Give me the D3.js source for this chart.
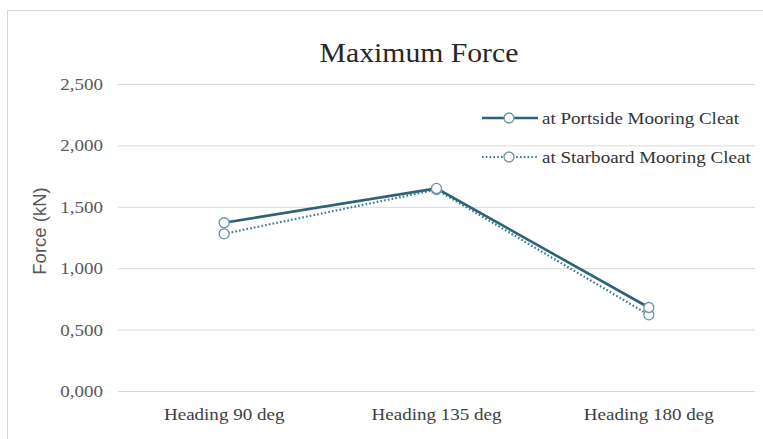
<!DOCTYPE html>
<html>
<head>
<meta charset="utf-8">
<script src="https://cdn.jsdelivr.net/npm/d3@7"></script>
<style>
html,body{margin:0;padding:0;background:#fff;}
svg{display:block;}
</style>
</head>
<body>
<svg id="chart" width="763" height="439"></svg>
<script>
const categories = ["Heading 90 deg", "Heading 135 deg", "Heading 180 deg"];
const portside = [1.37, 1.65, 0.68];
const starboard = [1.28, 1.64, 0.62];
const seriesNames = ["at Portside Mooring Cleat", "at Starboard Mooring Cleat"];
const yTicks = [0, 0.5, 1.0, 1.5, 2.0, 2.5];
const yTickLabels = ["0,000", "0,500", "1,000", "1,500", "2,000", "2,500"];
const title = "Maximum Force";
const yTitle = "Force (kN)";

const svg = d3.select("#chart");
const W = 763, H = 439;
const m = {left: 118, right: 8, top: 84, bottom: 48};
const serif = "'Liberation Serif','Times New Roman',serif";
const SX = 1.12; // horizontal stretch of serif text

// chart border
svg.append("rect").attr("x", 7.5).attr("y", 10.5).attr("width", 800).attr("height", 500)
  .attr("fill", "none").attr("stroke", "#d9d9d9").attr("stroke-width", 1);

const x = d3.scaleBand().domain(categories).range([m.left, W - m.right]);
const y = d3.scaleLinear().domain([0, 2.5]).range([H - m.bottom, m.top]);

// gridlines + y tick labels
const yAxis = d3.axisLeft(y).tickValues(yTicks)
  .tickFormat((d, i) => yTickLabels[i])
  .tickSize(-(W - m.right - m.left)).tickPadding(14);
const ga = svg.append("g").attr("transform", `translate(${m.left},0)`).call(yAxis);
ga.select(".domain").remove();
ga.selectAll(".tick line").attr("stroke", "#d9d9d9").attr("stroke-width", 1);
ga.selectAll(".tick text").attr("fill", "#595959").style("font-family", serif).style("font-size", "17px")
  .attr("x", -15 / SX).attr("transform", `scale(${SX},1)`);

// x axis labels
const xAxis = d3.axisBottom(x).tickSize(0).tickPadding(17);
const gx = svg.append("g").attr("transform", `translate(0,${H - m.bottom})`).call(xAxis);
gx.select(".domain").remove();
gx.selectAll(".tick text").attr("fill", "#404040").style("font-family", serif).style("font-size", "17px")
  .attr("transform", `scale(${SX},1)`);

// title
svg.append("text").attr("transform", `translate(419,62) scale(1.1,1)`).attr("text-anchor", "middle")
  .attr("fill", "#262626").style("font-family", serif).style("font-size", "27px")
  .text(title);

// y title
svg.append("text").attr("transform", "translate(46,231) rotate(-90)")
  .attr("text-anchor", "middle").attr("fill", "#595959")
  .style("font-family", "'Liberation Sans',Arial,sans-serif").style("font-size", "18.5px")
  .text(yTitle);

const cx = d => x(d) + x.bandwidth() / 2;
const series = [
  {name: seriesNames[0], values: portside, color: "#2d6277", width: 2.6, dash: null},
  {name: seriesNames[1], values: starboard, color: "#3b7891", width: 2.2, dash: "1.6,2.2"}
];

const line = d3.line().x((d, i) => cx(categories[i])).y(d => y(d));

[series[1], series[0]].forEach(s => {
  svg.append("path").datum(s.values).attr("d", line)
    .attr("fill", "none").attr("stroke", s.color).attr("stroke-width", s.width)
    .attr("stroke-dasharray", s.dash);
});
[series[1], series[0]].forEach(s => {
  svg.selectAll(null).data(s.values).enter().append("circle")
    .attr("cx", (d, i) => cx(categories[i])).attr("cy", d => y(d)).attr("r", 5)
    .attr("fill", "#fff").attr("stroke", "#6a95a8").attr("stroke-width", 1.3);
});

// legend
const lg = svg.append("g");
const legY = [118, 157];
series.forEach((s, i) => {
  const g = lg.append("g").attr("transform", `translate(0,${legY[i]})`);
  g.append("line").attr("x1", 482).attr("x2", 538).attr("y1", 0).attr("y2", 0)
    .attr("stroke", s.color).attr("stroke-width", s.width).attr("stroke-dasharray", s.dash);
  g.append("circle").attr("cx", 509).attr("cy", 0).attr("r", 5)
    .attr("fill", "#fff").attr("stroke", "#6a95a8").attr("stroke-width", 1.3);
  g.append("text").attr("transform", `translate(542,6) scale(${SX},1)`).attr("fill", "#333")
    .style("font-family", serif).style("font-size", "17px").text(s.name);
});
</script>
</body>
</html>
